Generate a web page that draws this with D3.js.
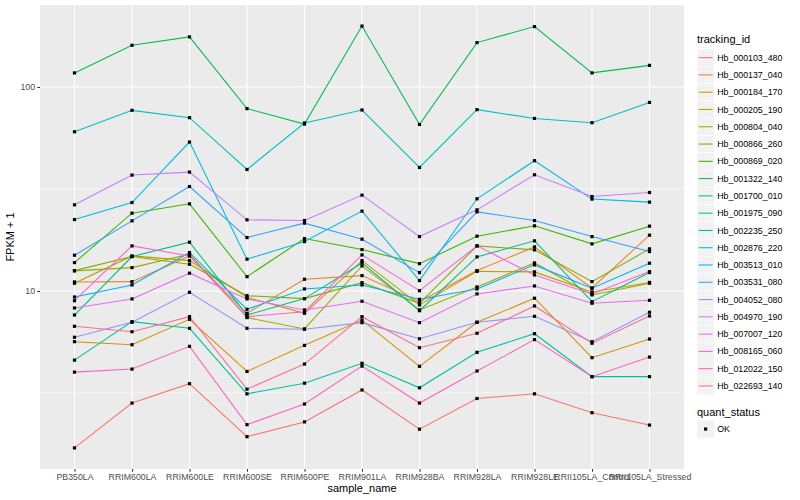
<!DOCTYPE html>
<html>
<head>
<meta charset="utf-8">
<title>FPKM by sample</title>
<style>
body{margin:0;padding:0;background:#fff;}
text{font-family:"Liberation Sans",Arial,sans-serif;}
</style>
</head>
<body>
<svg id="chart" width="800" height="500"></svg>
<script src="https://cdn.jsdelivr.net/npm/d3@7/dist/d3.min.js"></script>
<script>
// categories on the x axis
var samples = ["PB350LA","RRIM600LA","RRIM600LE","RRIM600SE","RRIM600PE","RRIM901LA",
	"RRIM928BA","RRIM928LA","RRIM928LE","RRII105LA_Control","RRII105LA_Stressed"];

var trackingIds = ["Hb_000103_480","Hb_000137_040","Hb_000184_170","Hb_000205_190","Hb_000804_040",
	"Hb_000866_260","Hb_000869_020","Hb_001322_140","Hb_001700_010","Hb_001975_090",
	"Hb_002235_250","Hb_002876_220","Hb_003513_010","Hb_003531_080","Hb_004052_080",
	"Hb_004970_190","Hb_007007_120","Hb_008165_060","Hb_012022_150","Hb_022693_140"];

// FPKM + 1 per gene, one value per sample
var hb000103_480 = [1.70,2.82,3.51,1.93,2.28,3.27,2.10,2.97,3.13,2.53,2.20];
var hb000137_040 = [11.07,11.11,14.85,7.77,11.41,11.89,8.86,12.58,16.44,10.34,18.77];
var hb000184_170 = [5.64,5.45,7.26,4.03,5.41,7.20,4.27,7.02,9.21,4.71,5.81];
var hb000205_190 = [10.91,14.85,14.08,9.31,7.77,14.08,8.54,12.47,12.40,9.89,11.01];
var hb000804_040 = [12.54,13.01,15.14,7.40,6.51,13.27,8.07,10.46,13.72,9.56,10.91];
var hb000866_260 = [12.58,14.74,13.52,9.48,9.17,10.98,8.70,16.63,15.90,11.11,16.08];
var hb000869_020 = [13.77,24.06,26.73,11.75,18.06,15.95,13.61,18.56,20.85,17.01,20.78];
var hb001322_140 = [117.2,160.1,176.0,78.3,65.8,198.8,65.5,165.0,197.7,117.2,127.6];
var hb001700_010 = [7.62,14.74,17.34,7.62,9.17,13.72,8.00,14.69,17.60,8.86,12.30];
var hb001975_090 = [4.58,7.07,6.56,3.13,3.53,4.42,3.35,5.00,6.17,3.80,3.80];
var hb002235_250 = [60.3,76.8,70.7,39.4,66.6,77.1,40.3,77.4,70.1,66.8,84.0];
var hb002876_220 = [22.39,27.13,53.7,14.31,17.46,24.62,11.24,28.29,43.5,28.2,27.25];
var hb003513_010 = [9.34,10.70,15.42,8.13,10.23,10.70,9.10,10.23,13.42,10.31,13.68];
var hb003531_080 = [14.97,22.06,32.5,18.27,21.50,17.94,12.30,24.42,22.14,18.47,15.60];
var hb004052_080 = [5.93,7.02,9.85,6.56,6.49,6.99,5.83,7.02,7.51,5.64,7.86];
var hb004970_190 = [26.43,36.98,38.25,22.32,22.14,29.49,18.47,24.98,37.11,29.03,30.38];
var hb007007_120 = [8.25,9.14,12.22,9.14,8.07,8.90,6.99,9.67,10.58,8.70,9.00];
var hb008165_060 = [8.96,16.63,14.85,7.48,7.91,15.02,10.03,16.63,11.98,9.67,12.44];
var hb012022_150 = [4.00,4.14,5.35,2.21,2.79,4.28,2.82,4.05,5.77,3.80,4.74];
var hb022693_140 = [6.71,6.31,7.48,3.30,4.38,7.48,5.27,6.20,8.44,5.54,7.54];

var yTicks = [10, 100];
var yMinor = [Math.sqrt(10), Math.sqrt(1000)];

// ggplot default hue palette for 20 groups
var palette = ["#F8766D","#EA8331","#D89000","#C09B00","#A3A500","#7CAE00","#39B600","#00BB4E",
	"#00BF7D","#00C1A3","#00BFC4","#00BAE0","#00B0F6","#35A2FF","#9590FF","#C77CFF",
	"#E76BF3","#FA62DB","#FF62BC","#FF6C90"];

var values = [hb000103_480,hb000137_040,hb000184_170,hb000205_190,hb000804_040,hb000866_260,
	hb000869_020,hb001322_140,hb001700_010,hb001975_090,hb002235_250,hb002876_220,
	hb003513_010,hb003531_080,hb004052_080,hb004970_190,hb007007_120,hb008165_060,
	hb012022_150,hb022693_140];

var series = trackingIds.map(function(id, i){
	return {id: id, color: palette[i], points: samples.map(function(s, j){ return {sample: s, v: values[i][j]}; })};
});

var panel = {left: 40, right: 684, top: 5, bottom: 469};
var svg = d3.select("#chart");

var x = d3.scalePoint().domain(samples).range([panel.left, panel.right]).padding(0.6);

// log extent with 5% expansion like ggplot
var all = [].concat.apply([], values);
var lo = Math.log10(d3.min(all)), hi = Math.log10(d3.max(all));
var pad = (hi - lo) * 0.05;
var y = d3.scaleLog().domain([Math.pow(10, lo - pad), Math.pow(10, hi + pad)]).range([panel.bottom, panel.top]);

// panel
svg.append("rect").attr("x", panel.left).attr("y", panel.top)
	.attr("width", panel.right - panel.left).attr("height", panel.bottom - panel.top)
	.attr("fill", "#EBEBEB");

var grid = svg.append("g");
grid.selectAll(".minor").data(yMinor).enter().append("line")
	.attr("x1", panel.left).attr("x2", panel.right)
	.attr("y1", function(d){return y(d);}).attr("y2", function(d){return y(d);})
	.attr("stroke", "#fff").attr("stroke-width", 0.55);
grid.selectAll(".major").data(yTicks).enter().append("line")
	.attr("x1", panel.left).attr("x2", panel.right)
	.attr("y1", function(d){return y(d);}).attr("y2", function(d){return y(d);})
	.attr("stroke", "#fff").attr("stroke-width", 1.1);
grid.selectAll(".xmajor").data(samples).enter().append("line")
	.attr("x1", function(d){return x(d);}).attr("x2", function(d){return x(d);})
	.attr("y1", panel.top).attr("y2", panel.bottom)
	.attr("stroke", "#fff").attr("stroke-width", 1.1);

// lines
var line = d3.line().x(function(d){return x(d.sample);}).y(function(d){return y(d.v);});
svg.append("g").selectAll("path").data(series).enter().append("path")
	.attr("d", function(d){return line(d.points);})
	.attr("fill", "none").attr("stroke", function(d){return d.color;}).attr("stroke-width", 1.07);

// points
var pts = [];
series.forEach(function(s){ s.points.forEach(function(p){ pts.push(p); }); });
svg.append("g").selectAll("rect").data(pts).enter().append("rect")
	.attr("x", function(d){return x(d.sample) - 1.6;})
	.attr("y", function(d){return y(d.v) - 1.6;})
	.attr("width", 3.2).attr("height", 3.2).attr("fill", "#000");

// axes
var yAxis = svg.append("g").attr("transform", "translate(" + panel.left + ",0)")
	.call(d3.axisLeft(y).tickValues(yTicks).tickFormat(d3.format("d")).tickSize(2.75).tickPadding(2.2));
var xAxis = svg.append("g").attr("transform", "translate(0," + panel.bottom + ")")
	.call(d3.axisBottom(x).tickSize(2.75).tickPadding(2.2));
[xAxis, yAxis].forEach(function(a){
	a.select(".domain").remove();
	a.selectAll(".tick line").attr("stroke", "#333333").attr("stroke-width", 1.07);
	a.selectAll(".tick text").attr("fill", "#4D4D4D").style("font-size", "8.8px")
		.style("font-family", "'Liberation Sans',Arial,sans-serif");
});

svg.append("text").attr("x", (panel.left + panel.right) / 2).attr("y", 492)
	.attr("text-anchor", "middle").style("font-size", "11px").text("sample_name");
svg.append("text").attr("transform", "translate(14," + (panel.top + panel.bottom) / 2 + ") rotate(-90)")
	.attr("text-anchor", "middle").style("font-size", "11px").text("FPKM + 1");

// legend: tracking_id
var lg = svg.append("g").attr("transform", "translate(697,0)");
var keySize = 17.28, keyTop = 49;
lg.append("text").attr("x", 0).attr("y", 43).style("font-size", "11px").text("tracking_id");
var items = lg.selectAll(".item").data(series).enter().append("g")
	.attr("transform", function(d, i){return "translate(0," + (keyTop + i * keySize) + ")";});
items.append("rect").attr("width", keySize).attr("height", keySize).attr("fill", "#F2F2F2")
	.attr("stroke", "#fff").attr("stroke-width", 0.5);
items.append("line").attr("x1", 1.7).attr("x2", keySize - 1.7)
	.attr("y1", keySize / 2).attr("y2", keySize / 2)
	.attr("stroke", function(d){return d.color;}).attr("stroke-width", 1.07);
items.append("text").attr("x", keySize + 3).attr("y", keySize / 2 + 3.1)
	.style("font-size", "8.8px").text(function(d){return d.id;});

// legend: quant_status
var qs = svg.append("g").attr("transform", "translate(697,0)");
qs.append("text").attr("x", 0).attr("y", 416).style("font-size", "11px").text("quant_status");
qs.append("rect").attr("y", 420.4).attr("width", keySize).attr("height", keySize).attr("fill", "#F2F2F2");
qs.append("rect").attr("x", keySize / 2 - 1.6).attr("y", 420.4 + keySize / 2 - 1.6)
	.attr("width", 3.2).attr("height", 3.2).attr("fill", "#000");
qs.append("text").attr("x", keySize + 3).attr("y", 420.4 + keySize / 2 + 3.1)
	.style("font-size", "8.8px").text("OK");
</script>
</body>
</html>
